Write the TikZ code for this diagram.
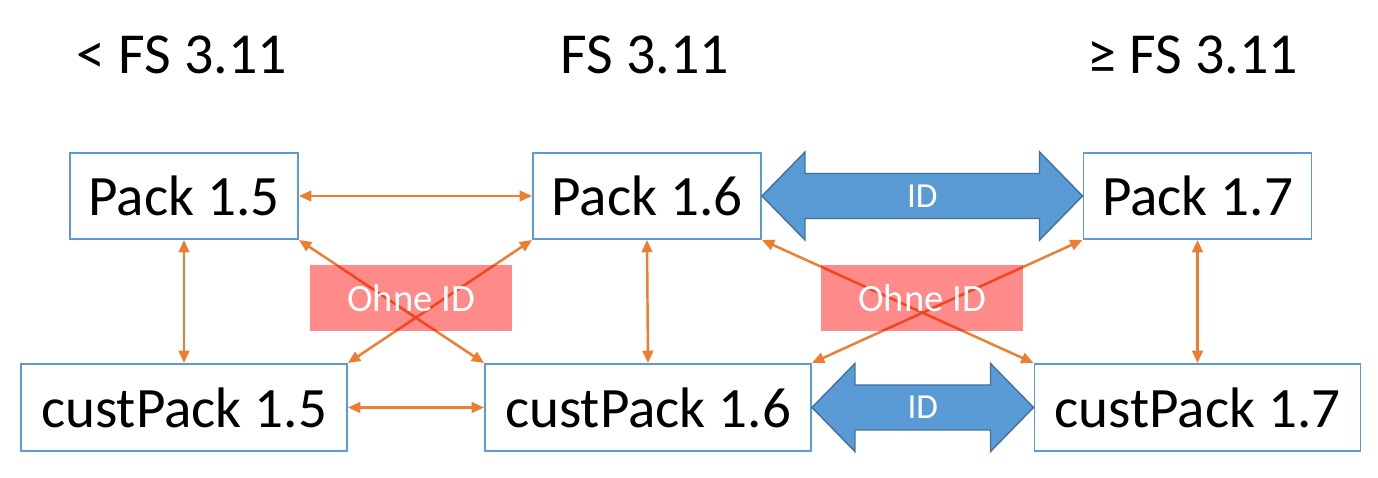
\documentclass[tikz,border=0pt]{standalone}
\usepackage{fontspec}
\setmainfont{Carlito}
\usetikzlibrary{arrows.meta}
\usetikzlibrary{calc}
\definecolor{boxblue}{HTML}{5B9BD5}
\definecolor{arrowedge}{HTML}{41719C}
\definecolor{linkorange}{HTML}{ED7D31}
\definecolor{ohnered}{HTML}{FF0000}

\tikzset{
  pack/.style={draw=boxblue, line width=1.1pt, fill=white, inner sep=0pt,
    minimum width=4.56cm, minimum height=1.72cm, font=\fontsize{32.5}{38}\selectfont},
  custpack/.style={pack, minimum width=6.52cm, minimum height=1.74cm},
  link/.style={linkorange, line width=1.4pt,
    {Triangle[length=7pt,width=6pt]}-{Triangle[length=7pt,width=6pt]}},
  ohne/.style={fill=ohnered, fill opacity=0.46, text opacity=1, text=white,
    minimum width=4.04cm, minimum height=1.32cm, font=\fontsize{22}{26}\selectfont},
  idarrow/.style={fill=boxblue, draw=arrowedge, line width=0.8pt},
  idtext/.style={text=white, font=\fontsize{20}{24}\selectfont},
  fstitle/.style={anchor=base, font=\fontsize{33}{38}\selectfont}
}

\begin{document}
\begin{tikzpicture}

  \useasboundingbox (0, 0) rectangle (27.56, 9.56);

  \node[fstitle] (t15) at (3.64, 8.08) {< FS 3.11};
  \node[fstitle] (t16) at (12.90, 8.08) {FS 3.11};
  \node[fstitle] (t17) at (23.86, 8.08) {≥ FS 3.11};

  \node[pack] (p15) at (3.68, 5.64) {Pack 1.5};
  \node[pack] (p16) at (12.94, 5.64) {Pack 1.6};
  \node[pack] (p17) at (23.95, 5.64) {Pack 1.7};

  \node[custpack] (c15) at (3.68, 1.41) {custPack 1.5};
  \node[custpack] (c16) at (12.96, 1.41) {custPack 1.6};
  \node[custpack] (c17) at (23.95, 1.41) {custPack 1.7};

  \draw[link] (p15.east) -- (p16.west);
  \draw[link] (p15.south) -- (c15.north);
  \draw[link] (p15.south east) -- (c16.north west);
  \draw[link] (p16.south west) -- (c15.north east);
  \draw[link] (c15.east) -- (c16.west);
  \draw[link] (p16.south) -- (c16.north);
  \draw[link] (p16.south east) -- (c17.north west);
  \draw[link] (p17.south west) -- (c16.north east);
  \draw[link] (p17.south) -- (c17.north);

  \draw[idarrow] (p16.east) -- ++(0.86, 0.88) -- ++(0, -0.43)
    -- ($(p17.west) + (-0.86, 0.45)$) -- ++(0, 0.43) -- (p17.west)
    -- ++(-0.86, -0.88) -- ++(0, 0.43)
    -- ($(p16.east) + (0.86, -0.45)$) -- ++(0, -0.43) -- cycle;
  \node[idtext] (id1) at ($(p16.east)!0.5!(p17.west)$) {ID};

  \draw[idarrow] (c16.east) -- ++(0.86, 0.88) -- ++(0, -0.43)
    -- ($(c17.west) + (-0.86, 0.45)$) -- ++(0, 0.43) -- (c17.west)
    -- ++(-0.86, -0.88) -- ++(0, 0.43)
    -- ($(c16.east) + (0.86, -0.45)$) -- ++(0, -0.43) -- cycle;
  \node[idtext] (id2) at ($(c16.east)!0.5!(c17.west)$) {ID};

  \node[ohne] (o1) at (8.22, 3.60) {Ohne ID};
  \node[ohne] (o2) at (18.44, 3.60) {Ohne ID};

\end{tikzpicture}
\end{document}
